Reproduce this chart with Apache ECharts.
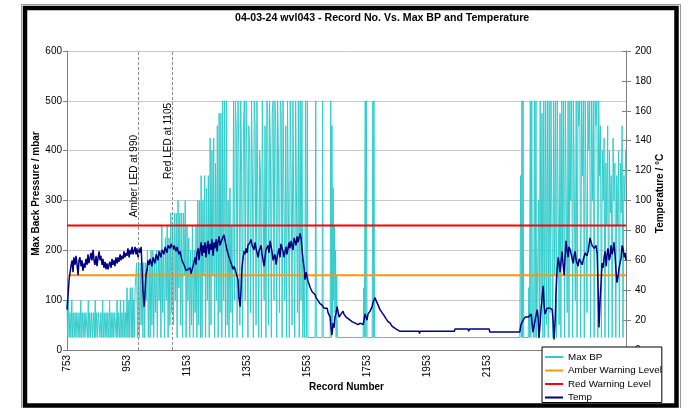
<!DOCTYPE html>
<html>
<head>
<meta charset="utf-8">
<script src="https://cdn.jsdelivr.net/npm/echarts@6/dist/echarts.min.js"></script>
<style>
  html, body { margin: 0; padding: 0; background: #fff; }
  #chart { width: 692px; height: 408px; }
</style>
</head>
<body>
<div id="chart"></div>
<script>
// record numbers shown on the x axis, and the visible record range
var recordTicks = [753, 953, 1153, 1353, 1553, 1753, 1953, 2153, 2353, 2553];
var recordRange = [753, 2616];

// warning levels (mbar)
var amberLevel = 150;
var redLevel = 250;

// LED events
var ledEvents = [
  { name: 'Amber LED at 990', record: 990 },
  { name: 'Red LED at 1105', record: 1105 }
];

// Max BP [record, mbar]
var maxBp = [
  [753,100],[755,25],[758,100],[760,25],[763,75],[766,25],[769,100],[771,25],[774,75],[777,25],
  [780,75],[783,25],[786,75],[788,75],[790,25],[793,75],[796,25],[799,100],[801,25],[804,75],
  [807,25],[810,75],[813,25],[816,75],[819,75],[821,25],[824,100],[826,25],[829,75],[832,25],
  [835,75],[838,25],[841,75],[844,25],[847,100],[849,25],[852,75],[855,25],[858,75],[861,75],
  [863,25],[866,75],[869,25],[872,100],[874,25],[877,75],[880,25],[883,75],[886,25],[889,75],
  [892,25],[895,100],[897,25],[900,75],[903,25],[906,75],[909,25],[912,75],[915,75],[917,25],
  [920,100],[922,25],[925,75],[928,25],[931,100],[933,25],[936,75],[939,25],[942,100],[944,25],
  [947,75],[950,25],[953,125],[956,25],[959,100],[961,25],[964,125],[967,25],[970,125],[972,25],
  [975,100],[977,25],[980,125],
  [985,175],[988,25],[991,175],[994,25],[997,175],[1000,50],[1003,175],[1006,25],[1009,175],[1012,25],
  [1015,175],[1018,100],[1021,200],[1024,25],[1027,175],[1030,25],[1033,200],[1036,50],[1039,200],[1042,25],
  [1045,175],[1048,75],[1051,200],[1054,25],[1057,200],[1060,100],[1063,200],[1066,25],[1069,250],[1072,75],
  [1075,200],[1078,25],[1081,225],[1084,100],[1087,250],[1090,25],[1093,225],[1096,50],[1099,275],[1102,75],
  [1105,250],[1108,50],[1111,275],[1114,100],[1117,275],[1120,25],[1123,300],[1126,125],[1129,275],[1132,50],
  [1135,275],[1138,25],[1141,275],[1144,150],[1147,300],[1150,25],[1153,250],[1156,100],[1159,225],[1162,25],
  [1165,200],[1168,50],[1171,250],[1174,25],[1177,200],[1180,75],[1183,250],[1186,25],[1189,300],[1192,50],
  [1195,300],[1198,25],
  [1200,350],[1203,25],[1206,300],[1209,150],[1212,350],[1215,25],[1218,325],[1221,100],[1224,350],[1227,25],
  [1230,425],[1233,50],[1236,400],[1239,150],[1242,425],[1245,25],[1248,375],[1251,100],[1254,450],[1257,25],
  [1260,475],[1263,75],[1266,475],[1269,25],[1272,500],[1275,100],[1278,500],[1281,25],[1284,500],[1287,50],
  [1290,300],[1293,25],[1296,325],[1299,75],
  [1302,250],[1305,25],[1308,500],[1311,100],[1314,500],[1317,450],[1320,25],[1323,500],[1326,400],[1329,50],
  [1332,500],[1335,350],[1338,25],[1341,450],[1344,500],[1347,100],[1350,500],[1353,375],[1356,25],[1359,450],
  [1362,400],[1365,75],[1368,500],[1371,350],[1374,25],[1377,500],[1380,450],[1383,50],[1386,500],[1389,300],
  [1392,25],[1395,400],[1398,350],
  [1401,25],[1404,500],[1407,300],[1410,100],[1413,450],[1416,25],[1419,500],[1422,475],[1425,50],[1428,500],
  [1431,400],[1434,25],[1437,475],[1440,500],[1443,100],[1446,500],[1449,450],[1452,25],[1455,500],[1458,375],
  [1461,75],[1464,500],[1467,475],[1470,25],[1473,500],[1476,500],[1479,100],[1482,450],[1485,25],[1488,500],
  [1491,500],[1494,25],[1497,500],[1500,350],[1503,50],[1506,500],[1509,500],[1512,25],[1515,500],[1518,500],
  [1521,75],[1524,500],[1527,25],[1530,500],
  [1533,100],[1536,500],[1539,25],[1542,150],[1545,25],[1548,500],[1551,25],[1554,500],[1556,25],[1580,25],
  [1582,500],[1584,25],[1603,25],[1605,500],[1607,25],[1630,25],[1632,500],[1634,25],[1636,450],[1638,50],
  [1640,325],[1642,100],[1644,250],[1646,75],[1648,200],[1650,25],[1652,150],[1654,25],
  [1740,25],[1742,125],[1744,25],[1747,500],[1749,25],[1751,500],[1753,25],[1770,25],[1772,500],[1774,25],
  [1776,500],[1778,25],[2262,25],
  [2265,350],[2267,25],[2269,500],[2271,25],[2273,500],[2275,25],[2290,25],[2292,125],[2294,25],[2297,500],
  [2299,25],[2302,500],[2304,50],[2308,25],[2311,500],[2313,25],[2316,500],[2318,25],[2322,25],[2325,300],
  [2327,25],[2330,500],[2333,100],[2336,475],[2339,25],[2342,500],[2345,25],[2348,500],[2351,50],[2354,500],
  [2357,25],[2360,500],[2363,75],[2366,500],[2369,500],[2372,25],[2375,500],[2378,150],[2381,500],[2384,25],
  [2387,500],[2390,500],[2393,50],[2396,475],[2399,25],[2402,500],[2405,200],[2408,500],[2411,25],[2414,500],
  [2417,500],[2420,75],[2423,500],[2426,25],[2429,500],[2432,300],[2435,500],[2438,25],[2441,500],[2444,500],
  [2447,100],[2450,500],[2453,25],[2456,500],[2459,450],[2462,500],[2465,25],[2468,500],[2471,350],[2474,500],
  [2477,25],[2480,500],[2483,500],[2486,75],[2489,500],[2492,400],[2495,500],[2498,25],[2501,500],[2504,300],
  [2507,500],[2510,25],[2513,500],[2516,450],[2519,500],[2522,25],[2525,500],[2528,350],[2531,450],[2534,25],
  [2537,400],[2540,300],[2543,425],[2546,25],[2549,375],[2552,250],[2555,450],[2558,25],[2561,400],[2564,275],
  [2567,350],[2570,25],[2573,425],[2576,300],[2579,375],[2582,25],[2585,350],[2588,250],[2591,400],[2594,25],
  [2597,375],[2600,275],[2603,450],[2606,25],[2609,350],[2612,300],[2615,400],[2616,350]
];

// Temp [record, degC]
var temp = [
  [753,27],[756,35],[760,47],[763,48],[766,56],[770,60],[773,52],[776,62],[780,57],[783,63],
  [786,58],[790,50],[793,60],[796,62],[800,56],[803,60],[806,53],[810,58],[813,55],[816,61],
  [820,57],[823,64],[826,58],[830,62],[833,65],[836,60],[840,67],[843,60],[846,57],[850,63],
  [853,56],[856,61],[860,66],[863,60],[866,63],[870,57],[873,61],[876,55],[880,59],[883,54],
  [886,58],[890,54],[893,57],[896,59],[900,55],[903,61],[906,57],[910,60],[913,56],[916,62],
  [920,58],[923,62],[926,59],[930,64],[933,60],[936,63],[940,61],[943,66],[946,62],[950,65],
  [953,63],[956,68],[960,62],[963,67],[966,64],[970,69],[973,64],[976,66],[980,69],[983,64],
  [986,68],[990,62],[993,68],[996,65],[1000,69],[1003,55],[1006,40],[1010,29],[1013,38],[1016,50],
  [1020,54],[1023,60],[1026,57],[1030,61],[1036,56],[1040,62],[1046,58],[1050,64],[1056,60],[1060,66],
  [1066,62],[1070,67],[1076,64],[1080,69],[1086,65],[1090,70],[1096,68],[1100,71],[1106,67],[1110,70],
  [1116,66],[1120,69],[1126,64],[1130,66],[1136,60],[1143,57],[1150,53],[1156,52],[1163,55],[1166,51],
  [1173,56],[1180,62],[1183,57],[1186,65],[1190,68],[1193,60],[1196,66],[1200,72],[1203,63],[1206,70],
  [1210,65],[1213,72],[1216,62],[1220,70],[1223,73],[1226,64],[1230,71],[1233,67],[1236,74],[1240,63],
  [1243,72],[1246,68],[1250,74],[1253,66],[1256,72],[1260,76],[1263,70],[1270,74],[1276,77],[1280,76],
  [1286,67],[1293,62],[1300,58],[1306,54],[1310,56],[1316,52],[1323,47],[1326,35],[1330,29],[1333,40],
  [1336,55],[1340,62],[1343,66],[1346,64],[1350,68],[1353,65],[1356,70],[1363,72],[1366,74],[1370,70],
  [1376,67],[1380,72],[1383,68],[1390,62],[1393,66],[1400,70],[1403,64],[1410,56],[1413,62],[1416,67],
  [1423,70],[1426,65],[1430,73],[1436,66],[1440,60],[1446,64],[1450,57],[1453,62],[1460,68],[1463,62],
  [1466,71],[1473,66],[1476,62],[1483,69],[1486,64],[1493,72],[1496,68],[1500,73],[1506,67],[1510,75],
  [1516,70],[1520,76],[1523,72],[1530,78],[1533,75],[1536,68],[1540,60],[1543,55],[1546,47],[1550,52],
  [1553,49],[1556,46],[1560,44],[1563,42],[1570,39],[1573,40],[1580,37],[1583,35],[1590,33],[1593,34],
  [1596,31],[1603,30],[1610,28],[1613,27],[1620,28],[1623,25],[1630,22],[1633,15],[1636,10],[1640,18],
  [1643,15],[1646,22],[1650,25],[1653,29],[1656,26],[1660,22],[1663,21],[1666,24],[1673,26],[1676,24],
  [1683,22],[1690,21],[1696,20],[1703,19],[1713,18],[1723,17],[1730,18],[1736,18],[1740,17],[1743,20],
  [1746,24],[1750,22],[1753,20],[1756,24],[1763,26],[1770,29],[1773,32],[1780,35],[1783,33],[1790,30],
  [1796,27],[1803,25],[1810,23],[1816,21],[1823,19],[1830,18],[1836,16],[1843,15],[1850,14],[1856,13],
  [1863,12.5],[1926,12.5],[1928,11],[1930,12.5],[2044,12.5],[2046,14],[2090,14],[2092,12.5],[2094,14],[2160,14],
  [2162,12],[2166,11],[2170,12],[2190,12],[2192,11],[2194,12],[2262,12],[2266,17],[2273,20],[2280,22],
  [2290,22],[2296,21],[2300,24],[2306,12],[2313,20],[2320,27],[2323,22],[2326,8],[2330,18],[2333,28],
  [2340,43],[2343,30],[2346,24],[2353,28],[2363,28],[2370,27],[2373,20],[2376,7],[2380,20],[2383,40],
  [2386,52],[2390,62],[2393,58],[2396,52],[2400,60],[2403,66],[2406,58],[2410,50],[2413,62],[2416,73],
  [2420,66],[2423,62],[2426,69],[2430,67],[2433,68],[2440,58],[2443,63],[2446,66],[2450,60],[2456,56],
  [2460,61],[2463,62],[2470,57],[2473,60],[2480,65],[2486,63],[2490,66],[2496,75],[2500,72],[2503,70],
  [2510,68],[2516,70],[2520,64],[2523,42],[2526,15],[2530,35],[2533,45],[2536,58],[2540,55],[2543,62],
  [2546,66],[2550,56],[2553,64],[2556,68],[2560,60],[2563,62],[2566,70],[2570,64],[2573,67],[2576,72],
  [2580,62],[2583,52],[2586,45],[2590,50],[2593,55],[2596,58],[2600,62],[2603,70],[2606,68],[2610,62],
  [2613,65],[2616,60]
];

var FONT = '"Liberation Sans", Arial, sans-serif';
var ledLabelShift = [84, 52]; // px from the top of the plot to the end of each LED label

function levelLine(level) {
  return [[recordRange[0], level], [recordRange[1], level]];
}

var chart = echarts.init(document.getElementById('chart'), null, { renderer: 'canvas' });

chart.setOption({
  animation: false,
  backgroundColor: '#fff',
  textStyle: { fontFamily: FONT },
  title: {
    text: '04-03-24 wvl043 - Record No. Vs. Max BP and Temperature',
    left: 230,
    top: 8,
    textStyle: { fontFamily: FONT, fontSize: 10.6, fontWeight: 'bold', color: '#000' }
  },
  graphic: [
    { type: 'rect', shape: { x: 21.5, y: 4.5, width: 659, height: 410 }, style: { fill: 'none', stroke: '#999', lineWidth: 1 }, silent: true },
    { type: 'rect', shape: { x: 25, y: 8, width: 651.5, height: 397.5 }, style: { fill: 'none', stroke: '#000', lineWidth: 4.5 }, silent: true }
  ],
  grid: { left: 67, right: 66, top: 51, bottom: 58 },
  legend: {
    orient: 'vertical',
    left: 542,
    top: 347,
    padding: [5, 0, 0, 3],
    itemGap: 3.5,
    itemWidth: 18,
    itemHeight: 2,
    icon: 'rect',
    backgroundColor: '#fff',
    borderColor: '#000',
    borderWidth: 1,
    borderRadius: 0,
    textStyle: { fontFamily: FONT, fontSize: 9.8, color: '#000' },
    data: ['Max BP', 'Amber Warning Level', 'Red Warning Level', 'Temp'],
    z: 10
  },
  xAxis: {
    type: 'value',
    min: recordRange[0],
    max: recordRange[1],
    name: 'Record Number',
    nameLocation: 'middle',
    nameGap: 32,
    nameMoveOverlap: false,
    nameTextStyle: { fontFamily: FONT, fontSize: 10, fontWeight: 'bold', color: '#000' },
    axisLine: { show: true, lineStyle: { color: '#808080', width: 1 } },
    axisTick: { show: false },
    splitLine: { show: false },
    axisLabel: {
      customValues: recordTicks,
      rotate: 90,
      margin: 5,
      fontFamily: FONT,
      fontSize: 10,
      color: '#000',
      formatter: function (v) { return String(v); }
    }
  },
  yAxis: [
    {
      type: 'value',
      min: 0,
      max: 600,
      interval: 100,
      name: 'Max Back Pressure / mbar',
      nameLocation: 'middle',
      nameGap: 26,
      nameMoveOverlap: false,
      nameTextStyle: { fontFamily: FONT, fontSize: 10, fontWeight: 'bold', color: '#000', padding: [0, 0, 0, 14] },
      axisLine: { show: true, lineStyle: { color: '#808080', width: 1 } },
      axisTick: { show: true, length: 4, lineStyle: { color: '#808080' } },
      splitLine: { show: true, lineStyle: { color: '#c8c8c8', width: 1 } },
      axisLabel: { margin: 5, fontFamily: FONT, fontSize: 10, color: '#000' }
    },
    {
      type: 'value',
      position: 'right',
      min: 0,
      max: 200,
      interval: 20,
      name: 'Temperature / °C',
      nameLocation: 'middle',
      nameGap: 29,
      nameMoveOverlap: false,
      nameTextStyle: { fontFamily: FONT, fontSize: 10, fontWeight: 'bold', color: '#000', padding: [0, 0, 0, 14] },
      axisLine: { show: true, lineStyle: { color: '#808080', width: 1 } },
      axisTick: { show: true, length: 5, lineStyle: { color: '#808080' } },
      splitLine: { show: false },
      axisLabel: { margin: 9, fontFamily: FONT, fontSize: 10, color: '#000' }
    },
    {
      // inner half of the cross ticks on the temperature axis
      type: 'value',
      position: 'right',
      min: 0,
      max: 200,
      interval: 20,
      axisLine: { show: false },
      axisTick: { show: true, inside: true, length: 4, lineStyle: { color: '#808080' } },
      axisLabel: { show: false },
      splitLine: { show: false }
    }
  ],
  series: [
    {
      name: 'Max BP',
      type: 'line',
      yAxisIndex: 0,
      data: maxBp,
      symbol: 'none',
      lineStyle: { color: '#33CCCC', width: 1 },
      itemStyle: { color: '#33CCCC' },
      markLine: {
        silent: true,
        symbol: ['none', 'none'],
        lineStyle: { color: '#8c8c8c', type: [3, 2], width: 1 },
        label: {
          position: 'insideEndTop',
          fontFamily: FONT,
          fontSize: 10,
          color: '#000',
          formatter: '{b}'
        },
        data: ledEvents.map(function (e, i) {
          return {
            name: e.name,
            xAxis: e.record,
            label: { distance: [ledLabelShift[i], -1] }
          };
        })
      }
    },
    {
      name: 'Amber Warning Level',
      type: 'line',
      yAxisIndex: 0,
      data: levelLine(amberLevel),
      symbol: 'none',
      lineStyle: { color: '#FF9900', width: 2 },
      itemStyle: { color: '#FF9900' }
    },
    {
      name: 'Red Warning Level',
      type: 'line',
      yAxisIndex: 0,
      data: levelLine(redLevel),
      symbol: 'none',
      lineStyle: { color: '#FF0000', width: 2 },
      itemStyle: { color: '#FF0000' }
    },
    {
      name: 'Temp',
      type: 'line',
      yAxisIndex: 1,
      data: temp,
      symbol: 'none',
      lineStyle: { color: '#000080', width: 1.5 },
      itemStyle: { color: '#000080' }
    }
  ]
});
</script>
</body>
</html>
